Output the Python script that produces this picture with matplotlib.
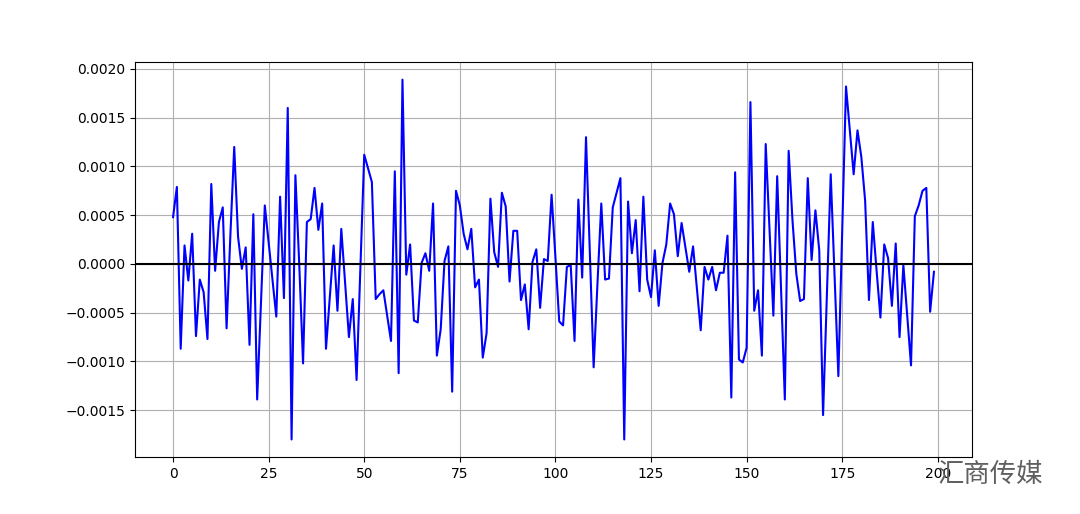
import matplotlib
matplotlib.use("Agg")
import matplotlib.pyplot as plt
import numpy as np

# --- данные ---
values = [
    0.00048, 0.00079, -0.00087, 0.00019, -0.00017, 0.00031, -0.00074, -0.00016, -0.00029, -0.00077,
    0.00082, -0.00007, 0.00043, 0.00058, -0.00066, 0.00030, 0.00120, 0.00028, -0.00005, 0.00017,
    -0.00083, 0.00051, -0.00139, -0.00040, 0.00060, 0.00022, -0.00016, -0.00054, 0.00069, -0.00035,
    0.00160, -0.00180, 0.00091, 0.00000, -0.00102, 0.00043, 0.00046, 0.00078, 0.00035, 0.00062,
    -0.00087, -0.00034, 0.00019, -0.00048, 0.00036, -0.00019, -0.00075, -0.00036, -0.00119, -0.00003,
    0.00112, 0.00098, 0.00084, -0.00036, -0.00031, -0.00027, -0.00053, -0.00079, 0.00095, -0.00112,
    0.00189, -0.00011, 0.00020, -0.00058, -0.00060, 0.00001, 0.00011, -0.00007, 0.00062, -0.00094,
    -0.00067, 0.00003, 0.00018, -0.00131, 0.00075, 0.00060, 0.00031, 0.00015, 0.00036, -0.00024,
    -0.00016, -0.00096, -0.00071, 0.00067, 0.00012, -0.00003, 0.00073, 0.00059, -0.00018, 0.00034,
    0.00034, -0.00037, -0.00021, -0.00067, 0.00002, 0.00015, -0.00045, 0.00005, 0.00003, 0.00071,
    0.00007, -0.00059, -0.00063, -0.00003, -0.00001, -0.00079, 0.00066, -0.00014, 0.00130, 0.00012,
    -0.00106, -0.00020, 0.00062, -0.00016, -0.00015, 0.00058, 0.00073, 0.00088, -0.00180, 0.00064,
    0.00011, 0.00045, -0.00028, 0.00069, -0.00016, -0.00034, 0.00014, -0.00043, 0.00001, 0.00020,
    0.00062, 0.00051, 0.00008, 0.00042, 0.00017, -0.00008, 0.00018, -0.00025, -0.00068, -0.00003,
    -0.00016, -0.00003, -0.00027, -0.00009, -0.00009, 0.00029, -0.00137, 0.00094, -0.00098, -0.00101,
    -0.00086, 0.00166, -0.00048, -0.00027, -0.00094, 0.00123, 0.00035, -0.00053, 0.00090, -0.00024,
    -0.00139, 0.00116, 0.00045, -0.00010, -0.00038, -0.00036, 0.00088, 0.00004, 0.00055, 0.00014,
    -0.00155, -0.00031, 0.00092, -0.00011, -0.00115, 0.00034, 0.00182, 0.00137, 0.00092, 0.00137,
    0.00110, 0.00065, -0.00037, 0.00043, -0.00007, -0.00055, 0.00020, 0.00006, -0.00043, 0.00021,
    -0.00075, -0.00001, -0.00052, -0.00104, 0.00049, 0.00060, 0.00075, 0.00078, -0.00049, -0.00008,
]
x = np.arange(len(values))
watermark = "汇商传媒"

# --- график ---
fig, ax = plt.subplots(figsize=(10.8, 5.14), dpi=100)
ax.plot(x, values, color="blue")
ax.axhline(0, color="black")
ax.grid(True)

# водяной знак
fig.text(0.868, 0.063, watermark, fontsize=19, color="#606060",
         family=["Noto Sans CJK SC", "DejaVu Sans"])

fig.savefig("out.png")
